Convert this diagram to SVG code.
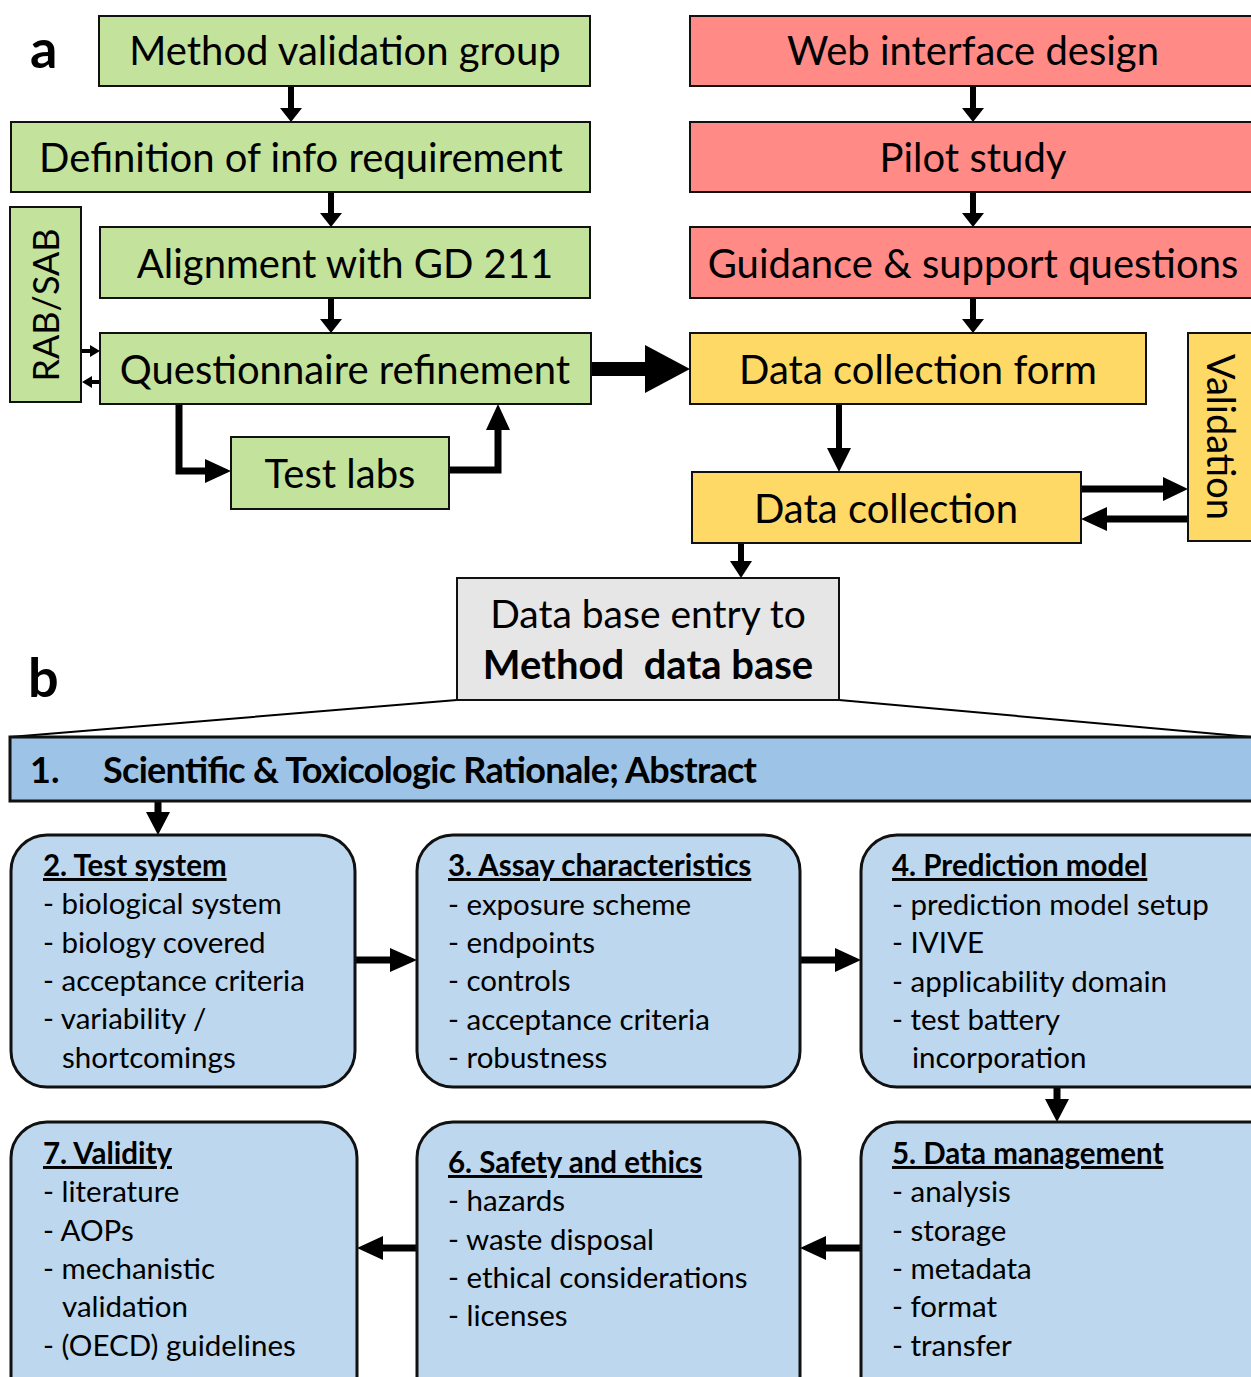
<svg xmlns="http://www.w3.org/2000/svg" width="1251" height="1377" viewBox="0 0 1251 1377">
<style>
.g{fill:#c3e29b;stroke:#111;stroke-width:2}
.r{fill:#ff8a86;stroke:#111;stroke-width:2}
.y{fill:#ffd966;stroke:#111;stroke-width:2}
.gr{fill:#e6e6e6;stroke:#111;stroke-width:2}
.hb{fill:#9dc3e6;stroke:#111;stroke-width:3}
.bb{fill:#bdd7ee;stroke:#111;stroke-width:3}
.t{font-family:Lato,"Open Sans",sans-serif;font-size:40px;fill:#000;text-anchor:middle}
.b{font-family:Lato,"Open Sans",sans-serif;font-size:29.5px;fill:#000}
.bt{font-weight:bold;text-decoration:underline}
.ln{stroke:#000;fill:none}
.ah{fill:#000}
</style>
<g id="labels">
<text x="30" y="68" font-family="Lato,'Open Sans',sans-serif" font-size="54" font-weight="bold">a</text>
<text x="28" y="697" font-family="Lato,'Open Sans',sans-serif" font-size="54" font-weight="bold">b</text>
</g>
<g id="connectors">
<path class="ln" d="M457 700 L10 737 M839 700 L1251 737" stroke-width="2"/>
<path class="ln" d="M291 86 V110 M331 192 V215 M331 298 V321 M973 86 V110 M973 192 V215 M973 298 V321" stroke-width="6"/>
<path class="ah" d="M280 108 H302 L291 122 Z M320 213 H342 L331 227 Z M320 319 H342 L331 333 Z M962 108 H984 L973 122 Z M962 213 H984 L973 227 Z M962 319 H984 L973 333 Z"/>
<path class="ah" d="M591 362 H645 V345 L690 369 L645 393 V376 H591 Z"/>
<path class="ln" d="M82 351 H92 M100 382 H90" stroke-width="4"/>
<path class="ah" d="M90 345 L100 351 L90 357 Z M92 376 L82 382 L92 388 Z"/>
<path class="ln" d="M179 404 V471 H207" stroke-width="7"/>
<path class="ah" d="M205 459 L231 471 L205 483 Z"/>
<path class="ln" d="M449 470 H498 V428" stroke-width="7"/>
<path class="ah" d="M486 430 L498 404 L510 430 Z"/>
<path class="ln" d="M839 404 V450" stroke-width="6"/>
<path class="ah" d="M827 448 H851 L839 472 Z"/>
<path class="ln" d="M1081 489 H1165 M1188 519 H1105" stroke-width="7"/>
<path class="ah" d="M1163 477 L1188 489 L1163 501 Z M1107 507 L1081 519 L1107 531 Z"/>
<path class="ln" d="M741 543 V563" stroke-width="6"/>
<path class="ah" d="M730 561 H752 L741 578 Z"/>
<path class="ln" d="M158 801 V815 M355 960 H392 M800 960 H836 M1057 1087 V1102 M861 1248 H825 M417 1248 H382" stroke-width="7"/>
<path class="ah" d="M146 812 H170 L158 835 Z M390 948 L417 960 L390 972 Z M835 948 L861 960 L835 972 Z M1045 1099 H1069 L1057 1122 Z M826 1236 L800 1248 L826 1260 Z M383 1236 L357 1248 L383 1260 Z"/>
</g>
<g id="n-method-validation"><rect class="g" x="99" y="16" width="491" height="70"/><text class="t" x="345" y="65">Method validation group</text></g>
<g id="n-definition"><rect class="g" x="11" y="122" width="579" height="70"/><text class="t" x="301" y="172">Definition of info requirement</text></g>
<g id="n-rabsab"><rect class="g" x="10" y="207" width="71" height="195"/><text class="t" style="font-size:36px" transform="translate(59 305) rotate(-90)">RAB/SAB</text></g>
<g id="n-alignment"><rect class="g" x="100" y="227" width="490" height="71"/><text class="t" x="345" y="278">Alignment with GD 211</text></g>
<g id="n-questionnaire"><rect class="g" x="100" y="333" width="491" height="71"/><text class="t" x="345" y="384">Questionnaire refinement</text></g>
<g id="n-testlabs"><rect class="g" x="231" y="437" width="218" height="72"/><text class="t" x="340" y="488">Test labs</text></g>
<g id="n-web"><rect class="r" x="690" y="16" width="565" height="70"/><text class="t" x="973" y="65">Web interface design</text></g>
<g id="n-pilot"><rect class="r" x="690" y="122" width="565" height="70"/><text class="t" x="973" y="172">Pilot study</text></g>
<g id="n-guidance"><rect class="r" x="690" y="227" width="565" height="71"/><text class="t" x="973" y="278">Guidance &amp; support questions</text></g>
<g id="n-dcform"><rect class="y" x="690" y="333" width="456" height="71"/><text class="t" x="918" y="384">Data collection form</text></g>
<g id="n-validation"><rect class="y" x="1188" y="333" width="67" height="208"/><text class="t" style="font-size:38px" transform="translate(1207 437) rotate(90)">Validation</text></g>
<g id="n-dc"><rect class="y" x="692" y="472" width="389" height="71"/><text class="t" x="886" y="523">Data collection</text></g>
<g id="n-dbentry"><rect class="gr" x="457" y="578" width="382" height="122"/><text class="t" x="648" y="628" style="font-size:39px">Data base entry to</text><text class="t" x="648" y="679" font-weight="bold" xml:space="preserve">Method  data base</text></g>
<g id="n-rationale"><rect class="hb" x="10" y="737" width="1250" height="64"/><text class="b" x="30" y="783" style="font-size:36px" font-weight="bold">1.</text><text class="b" x="103" y="783" style="font-size:36px" font-weight="bold" textLength="654" lengthAdjust="spacing">Scientific &amp; Toxicologic Rationale; Abstract</text></g>
<g id="n-test-system"><rect class="bb" x="11" y="835" width="344" height="252" rx="36"/>
<text class="b"><tspan class="bt" x="43" y="876">2. Test system</tspan><tspan x="43" y="914">- biological system</tspan><tspan x="43" y="953">- biology covered</tspan><tspan x="43" y="991">- acceptance criteria</tspan><tspan x="43" y="1029">- variability /</tspan><tspan x="62" y="1068">shortcomings</tspan></text></g>
<g id="n-assay"><rect class="bb" x="417" y="835" width="383" height="252" rx="36"/>
<text class="b"><tspan class="bt" x="448" y="876">3. Assay characteristics</tspan><tspan x="448" y="915">- exposure scheme</tspan><tspan x="448" y="953">- endpoints</tspan><tspan x="448" y="991">- controls</tspan><tspan x="448" y="1030">- acceptance criteria</tspan><tspan x="448" y="1068">- robustness</tspan></text></g>
<g id="n-prediction"><rect class="bb" x="861" y="835" width="430" height="252" rx="36"/>
<text class="b"><tspan class="bt" x="892" y="876">4. Prediction model</tspan><tspan x="892" y="915">- prediction model setup</tspan><tspan x="892" y="953">- IVIVE</tspan><tspan x="892" y="992">- applicability domain</tspan><tspan x="892" y="1030">- test battery</tspan><tspan x="912" y="1068">incorporation</tspan></text></g>
<g id="n-validity"><rect class="bb" x="11" y="1122" width="346" height="290" rx="36"/>
<text class="b"><tspan class="bt" x="43" y="1164">7. Validity</tspan><tspan x="43" y="1202">- literature</tspan><tspan x="43" y="1241">- AOPs</tspan><tspan x="43" y="1279">- mechanistic</tspan><tspan x="62" y="1317">validation</tspan><tspan x="43" y="1356">- (OECD) guidelines</tspan></text></g>
<g id="n-safety"><rect class="bb" x="417" y="1122" width="383" height="290" rx="36"/>
<text class="b"><tspan class="bt" x="448" y="1173">6. Safety and ethics</tspan><tspan x="448" y="1211">- hazards</tspan><tspan x="448" y="1250">- waste disposal</tspan><tspan x="448" y="1288">- ethical considerations</tspan><tspan x="448" y="1326">- licenses</tspan></text></g>
<g id="n-datamgmt"><rect class="bb" x="861" y="1122" width="430" height="290" rx="36"/>
<text class="b"><tspan class="bt" x="892" y="1164">5. Data management</tspan><tspan x="892" y="1202">- analysis</tspan><tspan x="892" y="1241">- storage</tspan><tspan x="892" y="1279">- metadata</tspan><tspan x="892" y="1317">- format</tspan><tspan x="892" y="1356">- transfer</tspan></text></g>
</svg>
